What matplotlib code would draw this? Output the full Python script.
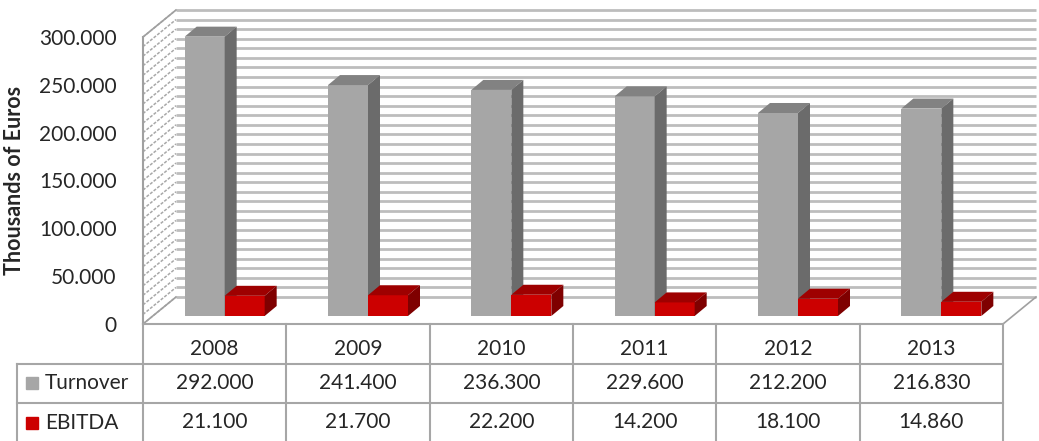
import numpy as np
import matplotlib.pyplot as plt
from matplotlib.patches import Polygon
from matplotlib.ticker import FuncFormatter

years = ['2008', '2009', '2010', '2011', '2012', '2013']
turnover = [292000, 241400, 236300, 229600, 212200, 216830]
ebitda = [21100, 21700, 22200, 14200, 18100, 14860]
series_names = ['Turnover', 'EBITDA']

plt.rcParams['font.family'] = ['Lato', 'DejaVu Sans']

W, H = 1039, 441
fig = plt.figure(figsize=(W / 100, H / 100), dpi=100)

# front plane of the 3d box: 0 at the front floor edge, 300.000 at the top
ymax = 300000
ax = fig.add_axes([143 / W, (H - 324) / H, 860 / W, 287 / H])
ax.set_xlim(-0.5, 5.5)
ax.set_ylim(0, ymax)

px_x = 6 / 860      # data units per pixel
px_y = ymax / 287
DX, DY = 33 * px_x, 27 * px_y   # depth of floor / walls

grid_c = '#BDBDBD'
edge_c = '#A0A0A0'

# back wall + side wall gridlines
for v in range(0, ymax + 1, 10000):
    ax.plot([-0.5 + DX, 5.5 + DX], [v + DY, v + DY], color=grid_c, lw=2.0,
            clip_on=False, zorder=1, solid_capstyle='butt')
    ax.plot([-0.5, -0.5 + DX], [v, v + DY], color='#A8A8A8', lw=1.1,
            clip_on=False, zorder=1, ls=(0, (2, 1)))

# box edges
ax.plot([-0.5, -0.5], [0, ymax], color=edge_c, lw=1.5, clip_on=False, zorder=2)
ax.plot([-0.5, -0.5 + DX], [ymax, ymax + DY], color=edge_c, lw=1.2, clip_on=False, zorder=2)
ax.plot([-0.5, -0.5 + DX], [0, DY], color=edge_c, lw=1.2, clip_on=False, zorder=2)
ax.plot([5.5, 5.5 + DX], [0, DY], color=edge_c, lw=1.2, clip_on=False, zorder=2)

# bars
w = 40 * px_x
bx, by = 10 * px_x, 8 * px_y     # front face of the bars sits a bit behind the floor edge
ddx, ddy = 12 * px_x, 10 * px_y  # bar depth


def bar3d(x0, h, front, top, side):
    ax.bar(x0, h, width=w, bottom=by, align='edge', color=front,
           zorder=3, clip_on=False, linewidth=0)
    x1 = x0 + w
    y0, y1 = by, by + h
    ax.add_patch(Polygon([(x0, y1), (x1, y1), (x1 + ddx, y1 + ddy), (x0 + ddx, y1 + ddy)],
                         closed=True, facecolor=top, edgecolor='none', zorder=3, clip_on=False))
    ax.add_patch(Polygon([(x1, y0), (x1, y1), (x1 + ddx, y1 + ddy), (x1 + ddx, y0 + ddy)],
                         closed=True, facecolor=side, edgecolor='none', zorder=3, clip_on=False))


x = np.arange(len(years))
for i in x:
    bar3d(i + bx - w, turnover[i], '#A6A6A6', '#828282', '#6B6B6B')
    bar3d(i + bx, ebitda[i], '#CC0000', '#9E0000', '#7F0000')

ax.set_xticks([])
ax.set_yticks(range(0, ymax + 1, 50000))
ax.yaxis.set_major_formatter(FuncFormatter(lambda v, p: f'{int(v):,}'.replace(',', '.')))
ax.tick_params(axis='y', length=0, pad=19, labelsize=15, labelcolor='#262626')
for s in ax.spines.values():
    s.set_visible(False)
ax.patch.set_visible(False)

fig.text(15 / W, 1 - 180 / H, 'Thousands of Euros', rotation=90, fontsize=15.5,
         fontweight='bold', ha='center', va='center', color='#262626')

# data table under the chart
row_h = 39.5
tab = fig.add_axes([143 / W, 0, 860 / W, 117 / H])
tab.set_xlim(-0.5, 5.5)
tab.set_ylim(117 / row_h, 0)
tab.axis('off')
xl = -0.5 - 126 * px_x
yb = 117 / row_h
line_c = '#A6A6A6'
tab.plot([-0.5, 5.5], [0, 0], color=line_c, lw=1.5, clip_on=False)
for r in [1, 2]:
    tab.plot([xl, 5.5], [r, r], color=line_c, lw=1.5, clip_on=False)
for k in range(7):
    tab.plot([k - 0.5, k - 0.5], [0, yb], color=line_c, lw=1.5, clip_on=False)
tab.plot([xl, xl], [1, yb], color=line_c, lw=1.5, clip_on=False)

for i, yr in enumerate(years):
    tab.text(i, 0.63, yr, ha='center', va='center', fontsize=15, color='#262626')
    tab.text(i, 1.5, f'{turnover[i]:,}'.replace(',', '.'), ha='center', va='center',
             fontsize=15, color='#262626')
    tab.text(i, 2.48, f'{ebitda[i]:,}'.replace(',', '.'), ha='center', va='center',
             fontsize=15, color='#262626')

key_x = -0.5 - 111 * px_x
lab_x = -0.5 - 98 * px_x
for r, (name, c) in enumerate(zip(series_names, ['#A6A6A6', '#CC0000'])):
    tab.plot([key_x], [1.5 + r], marker='s', markersize=8.5, color=c, clip_on=False)
    tab.text(lab_x, 1.5 + r, name, ha='left', va='center', fontsize=15, color='#262626')

fig.savefig('out.png', dpi=100)
